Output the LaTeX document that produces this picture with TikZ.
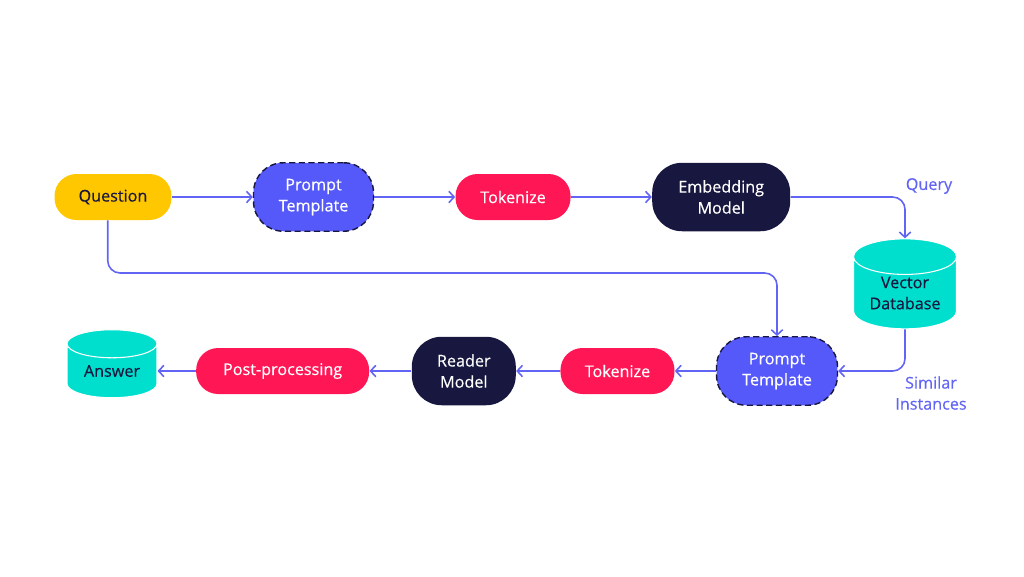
\documentclass[tikz,border=0pt]{standalone}
\usepackage{fontspec}
\setmainfont{Open Sans}
\newfontfamily\diagfont{Open Sans}[FakeBold=0.35]
\usepackage{xcolor}
\usetikzlibrary{shapes.geometric,arrows.meta,positioning}
\definecolor{askyellow}{HTML}{FFC700}
\definecolor{tplblue}{HTML}{5559FA}
\definecolor{tokred}{HTML}{FF1655}
\definecolor{modnavy}{HTML}{17173F}
\definecolor{dbteal}{HTML}{00DFCE}
\definecolor{flowblue}{HTML}{6264F4}

\begin{document}
\begin{tikzpicture}[
    x=0.02cm, y=-0.02cm,
    font=\diagfont\fontsize{9.2}{12}\selectfont,
    pill/.style={rectangle, rounded corners=12.5pt, inner sep=0pt, minimum height=0.92cm, align=center, text=white},
    tall/.style={pill, rounded corners=17pt, minimum height=1.37cm},
    template/.style={tall, fill=tplblue, draw=modnavy, line width=0.8pt, dash pattern=on 3.5pt off 2pt},
    store/.style={cylinder, shape border rotate=90, aspect=0.5, draw=white, line width=0.6pt, cylinder uses custom fill, cylinder body fill=dbteal, cylinder end fill=dbteal, inner sep=0pt, text=modnavy, align=center},
    flow/.style={-{Straight Barb[length=3pt,width=6.5pt]}, draw=flowblue, line width=0.9pt, rounded corners=7pt},
    tag/.style={text=flowblue, align=center}
]
    \useasboundingbox (0,0) rectangle (1024,576);

    % Nodes
    \node[pill, fill=askyellow, text=modnavy, minimum width=2.34cm] (question) at (113,197) {Question};
    \node[template, minimum width=2.4cm, right=1.62cm of question] (template1) {Prompt\\Template};
    \node[pill, fill=tokred, minimum width=2.3cm, right=1.62cm of template1] (tokenize1) {Tokenize};
    \node[tall, fill=modnavy, minimum width=2.76cm, right=1.62cm of tokenize1] (embed) {Embedding\\Model};
    \node[store, minimum width=2.06cm, minimum height=1.8cm] (vectordb) at (905,293) {Vector\\Database};

    \node[template, minimum width=2.42cm] (template2) at (777,371) {Prompt\\Template};
    \node[pill, fill=tokred, minimum width=2.28cm, left=0.82cm of template2] (tokenize2) {Tokenize};
    \node[tall, fill=modnavy, minimum width=2.08cm, left=0.88cm of tokenize2] (reader) {Reader\\Model};
    \node[pill, fill=tokred, minimum width=3.46cm, left=0.84cm of reader] (postproc) {Post-processing};
    \node[store, minimum width=1.8cm, minimum height=1.36cm] (answer) at (112,371) {Answer};

    \coordinate (crossing) at (500,273);

    % Labels
    \node[tag] (querytag) at (929,186) {Query};
    \node[tag] (simtag) at (931,393) {Similar\\Instances};

    % Arrows
    \draw[flow] (question) -- (template1);
    \draw[flow] (template1) -- (tokenize1);
    \draw[flow] (tokenize1) -- (embed);
    \draw[flow] (embed) -| (vectordb);
    \draw[flow] ([xshift=-3pt]question.south) |- (crossing) -| (template2);
    \draw[flow] (vectordb) |- (template2);
    \draw[flow] (template2) -- (tokenize2);
    \draw[flow] (tokenize2) -- (reader);
    \draw[flow] (reader) -- (postproc);
    \draw[flow] (postproc) -- (answer);
\end{tikzpicture}
\end{document}
